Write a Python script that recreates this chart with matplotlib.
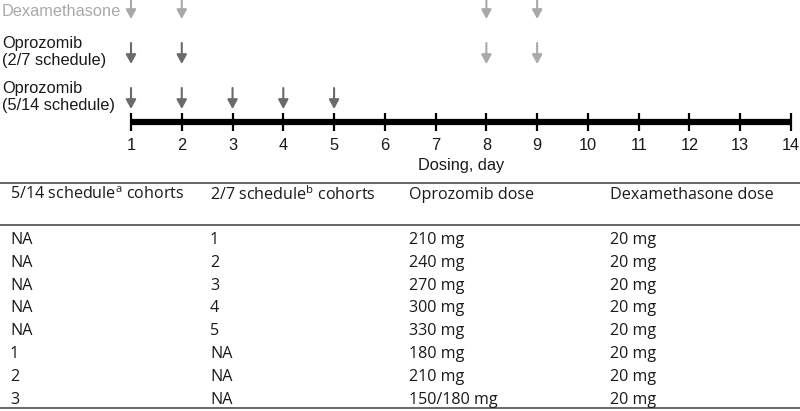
import matplotlib
matplotlib.use("Agg")
import matplotlib.pyplot as plt

# --- Data ---
days = list(range(1, 15))
dex_days = [1, 2, 8, 9]
opro_27_days = [1, 2]
opro_27_dex_days = [8, 9]
opro_514_days = [1, 2, 3, 4, 5]

col_headers = ["5/14 schedule$^{\\mathrm{a}}$ cohorts", "2/7 schedule$^{\\mathrm{b}}$ cohorts",
               "Oprozomib dose", "Dexamethasone dose"]
cohort_514 = ["NA", "NA", "NA", "NA", "NA", "1", "2", "3"]
cohort_27 = ["1", "2", "3", "4", "5", "NA", "NA", "NA"]
opro_dose = ["210 mg", "240 mg", "270 mg", "300 mg", "330 mg", "180 mg", "210 mg", "150/180 mg"]
dex_dose = ["20 mg"] * 8

DARK = "#6a6a6a"
LIGHT = "#a9a9a9"
TXT = "#1a1a1a"
FS_TOP = 11.8
FS_TAB = 11.6

plt.rcParams['mathtext.fontset'] = 'custom'
plt.rcParams['mathtext.rm'] = 'Open Sans'

fig = plt.figure(figsize=(8, 4.11), dpi=100)

# --- Timeline (x in days, y in pixels from top) ---
px_per_day = (791 - 131) / 13
ax = fig.add_axes([0, 0, 1, 1])
ax.set_xlim(1 - 131 / px_per_day, 14 + 9 / px_per_day)
ax.set_ylim(411, 0)
ax.axis("off")

ax.plot([1, 14], [122, 122], color="black", lw=4.5, solid_capstyle="butt")
ax.vlines(days, 113, 131, color="black", lw=1.6)
for d in days:
    ax.text(d, 145, str(d), ha="center", va="center", fontsize=FS_TOP,
            family="Liberation Sans", color=TXT)
ax.text(7.5, 165, "Dosing, day", ha="center", va="center", fontsize=FS_TOP,
        family="Liberation Sans", color=TXT)


def arrows(dlist, y0, y1, color):
    for d in dlist:
        ax.annotate("", xy=(d, y1), xytext=(d, y0),
                    arrowprops=dict(arrowstyle="-|>,head_length=0.55,head_width=0.3",
                                    lw=1.5, color=color, shrinkA=0, shrinkB=0))


arrows(dex_days, -2, 19, LIGHT)
arrows(opro_27_days, 43, 64, DARK)
arrows(opro_27_dex_days, 43, 64, LIGHT)
arrows(opro_514_days, 88, 109, DARK)

lab_x = 1 - 129 / px_per_day
ax.text(lab_x, 11, "Dexamethasone", ha="left", va="center", fontsize=FS_TOP,
        family="Liberation Sans", color=LIGHT)
ax.text(lab_x, 52, "Oprozomib\n(2/7 schedule)", ha="left", va="center", fontsize=FS_TOP,
        family="Liberation Sans", color=TXT, linespacing=1.2)
ax.text(lab_x, 97, "Oprozomib\n(5/14 schedule)", ha="left", va="center", fontsize=FS_TOP,
        family="Liberation Sans", color=TXT, linespacing=1.2)

# --- Table (pixel coordinates) ---
tb = fig.add_axes([0, 0, 1, 1])
tb.set_xlim(0, 800)
tb.set_ylim(411, 0)
tb.axis("off")
tb.patch.set_alpha(0)

col_x = [10, 210, 409, 610]
for y in (183, 225, 408):
    tb.plot([0, 800], [y, y], color="#5a5a5a", lw=1.3)

for x, h in zip(col_x, col_headers):
    tb.text(x, 195, h, ha="left", va="center", fontsize=FS_TAB, family="Open Sans", color=TXT)

row_y0, row_step = 240, 22.8
for i, row in enumerate(zip(cohort_514, cohort_27, opro_dose, dex_dose)):
    for x, val in zip(col_x, row):
        tb.text(x, row_y0 + i * row_step, val, ha="left", va="center", fontsize=FS_TAB,
                family="Open Sans", color=TXT)

fig.savefig("out.png", dpi=100)
